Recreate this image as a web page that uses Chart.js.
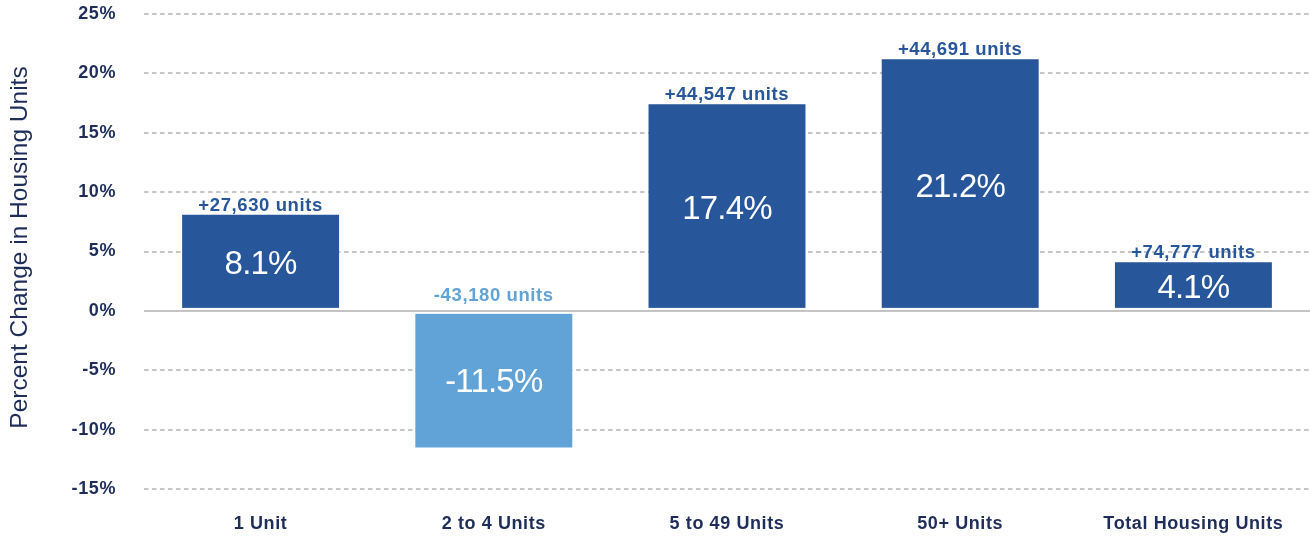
<!DOCTYPE html>
<html>
<head>
<meta charset="utf-8">
<script src="https://cdn.jsdelivr.net/npm/chart.js@4.4.0/dist/chart.umd.min.js"></script>
<style>
html,body{margin:0;padding:0;background:#fff;}
#wrap{width:1310px;height:537px;position:relative;}
</style>
</head>
<body>
<div id="wrap"><canvas id="c"></canvas></div>
<script>
const categories = ["1 Unit", "2 to 4 Units", "5 to 49 Units", "50+ Units", "Total Housing Units"];
const percentChange = [8.1, -11.5, 17.4, 21.2, 4.1];
const unitChange = ["+27,630 units", "-43,180 units", "+44,547 units", "+44,691 units", "+74,777 units"];
const yTicks = [-15, -10, -5, 0, 5, 10, 15, 20, 25];
const yTitle = "Percent Change in Housing Units";

const DARK = "#27569A";
const LIGHT = "#61A3D6";
const NAVY = "#1F2D5A";
const FONT = "'Liberation Sans', Arial, sans-serif";

const barColors = percentChange.map(v => v < 0 ? LIGHT : DARK);

const spacingPlugin = {
  id: 'spacing',
  beforeDraw(chart) { chart.ctx.letterSpacing = '0.6px'; }
};

const labelPlugin = {
  id: 'barLabels',
  afterDatasetsDraw(chart) {
    const ctx = chart.ctx;
    const meta = chart.getDatasetMeta(0);
    const yScale = chart.scales.y;
    const area = chart.chartArea;
    const zeroY = yScale.getPixelForValue(0);
    ctx.save();
    // zero line with small white gap around it
    ctx.fillStyle = "#ffffff";
    ctx.fillRect(area.left, zeroY - 3, area.right - area.left, 6);
    ctx.strokeStyle = "#c4c4c4";
    ctx.lineWidth = 2;
    ctx.beginPath();
    ctx.moveTo(area.left, zeroY);
    ctx.lineTo(area.right, zeroY);
    ctx.stroke();

    meta.data.forEach((bar, i) => {
      const v = percentChange[i];
      const top = Math.min(bar.y, bar.base);
      const bottom = Math.max(bar.y, bar.base);
      ctx.textAlign = "center";
      ctx.textBaseline = "alphabetic";
      // value inside bar
      ctx.letterSpacing = "-0.8px";
      ctx.fillStyle = "#ffffff";
      ctx.font = "400 33px " + FONT;
      ctx.fillText(v.toFixed(1) + "%", bar.x, (top + bottom) / 2 + 12);
      // units above
      ctx.letterSpacing = "0.6px";
      ctx.fillStyle = barColors[i];
      ctx.font = "700 18.5px " + FONT;
      const ly = v >= 0 ? bar.y - 4 : zeroY - 10;
      ctx.fillText(unitChange[i], bar.x, ly);
    });
    // y axis title
    ctx.letterSpacing = "0px";
    ctx.translate(20, (area.top + area.bottom) / 2 - 4);
    ctx.rotate(-Math.PI / 2);
    ctx.fillStyle = NAVY;
    ctx.font = "400 24.5px " + FONT;
    ctx.textAlign = "center";
    ctx.textBaseline = "middle";
    ctx.fillText(yTitle, 0, 0);
    ctx.restore();
  }
};

new Chart(document.getElementById('c'), {
  type: 'bar',
  data: {
    labels: categories,
    datasets: [{
      data: percentChange,
      backgroundColor: barColors,
      borderWidth: 0,
      barPercentage: 0.673,
      categoryPercentage: 1.0
    }]
  },
  options: {
    responsive: true,
    maintainAspectRatio: false,
    animation: false,
    layout: { padding: { top: 14, right: 0, left: 0, bottom: 0 } },
    plugins: { legend: { display: false }, tooltip: { enabled: false } },
    scales: {
      x: {
        afterFit: (s) => { s.height = 48; },
        grid: { display: false, drawTicks: false },
        border: { display: false },
        ticks: { color: NAVY, font: { family: FONT, size: 18, weight: '700' }, padding: 24, maxRotation: 0, autoSkip: false }
      },
      y: {
        min: -15, max: 25,
        afterBuildTicks: (s) => { s.ticks = yTicks.map(v => ({ value: v })); },
        afterFit: (s) => { s.width = 144; },
        grid: {
          drawTicks: true,
          tickLength: 28,
          tickColor: 'rgba(0,0,0,0)',
          color: (c) => c.tick && c.tick.value === 0 ? "rgba(0,0,0,0)" : "#c6c6c6",
          lineWidth: 2
        },
        border: { display: false, dash: [4.5, 3.5] },
        ticks: {
          color: NAVY,
          font: { family: FONT, size: 18, weight: '700' },
          padding: 0,
          callback: (v) => v + "%"
        },
        title: { display: false }
      }
    }
  },
  plugins: [spacingPlugin, labelPlugin]
});
</script>
</body>
</html>
